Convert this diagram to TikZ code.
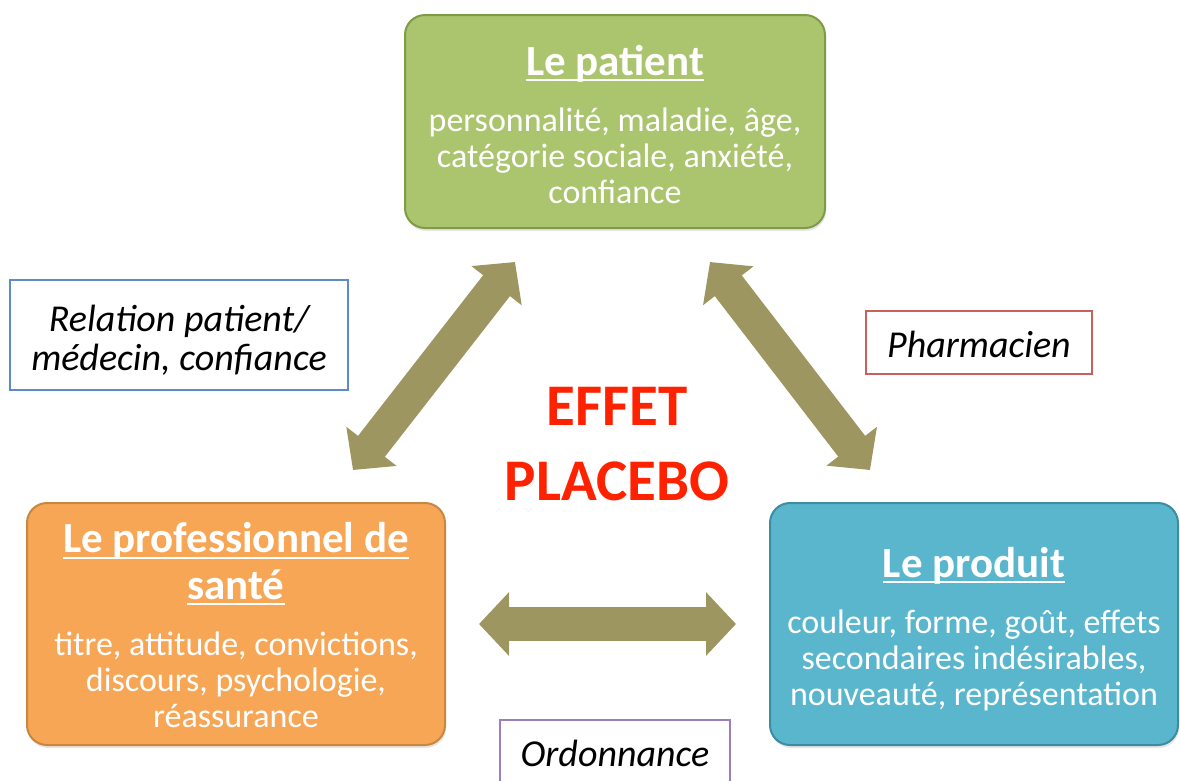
\documentclass[tikz,border=0pt]{standalone}
\usepackage{fontspec}
\setmainfont{Carlito}
\usetikzlibrary{arrows.meta,shadows}

\definecolor{patientfill}{HTML}{ABC46E}
\definecolor{patientdraw}{HTML}{7E9B48}
\definecolor{prosfill}{HTML}{F7A656}
\definecolor{prosdraw}{HTML}{C8873F}
\definecolor{prodfill}{HTML}{5AB6CD}
\definecolor{proddraw}{HTML}{3C8CA2}
\definecolor{arrowcol}{HTML}{9E9660}
\definecolor{relblue}{HTML}{5B8CC8}
\definecolor{relred}{HTML}{C8605C}
\definecolor{relpurple}{HTML}{9A7EBE}
\definecolor{effetred}{HTML}{FF2200}

\tikzset{
    factor/.style={rounded corners=20pt, line width=2pt, text=white, align=center,
        inner sep=0pt, font=\fontsize{34}{36}\selectfont,
        drop shadow={opacity=0.2, shadow xshift=1pt, shadow yshift=-3pt}},
    relation/.style={draw, line width=2pt, fill=white, align=center,
        inner sep=0pt, font=\fontsize{38}{39}\selectfont\itshape},
    bigarrow/.style={arrowcol, line width=34pt,
        {Triangle[length=30pt,width=62pt]}-{Triangle[length=30pt,width=62pt]}},
}
\newcommand{\boxtitle}[1]{{\fontsize{43}{45}\selectfont\bfseries
    \setbox0\hbox{#1}\rlap{\rule[-6pt]{\wd0}{1.8pt}}\box0}}

\begin{document}
\begin{tikzpicture}[x=1pt,y=-1pt]
    \useasboundingbox (0,0) rectangle (1180,780);

    % les trois acteurs
    \node[factor, fill=patientfill, draw=patientdraw, minimum width=420pt,
        text height=188pt, text depth=25pt] (patient) at (615,121.5)
        {\boxtitle{Le patient}\\[20pt]
         personnalité, maladie, âge,\\ catégorie sociale, anxiété,\\ confiance};
    \node[factor, fill=prosfill, draw=prosdraw, minimum width=418pt,
        text height=224pt, text depth=18pt] (pro) at (236,624)
        {\boxtitle{Le professionnel de}\\[9pt] \boxtitle{santé}\\[20pt]
         titre, attitude, convictions,\\ discours, psychologie,\\ réassurance};
    \node[factor, fill=prodfill, draw=proddraw, minimum width=408pt,
        text height=202pt, text depth=40pt] (produit) at (974,624)
        {\boxtitle{Le produit}\\[20pt]
         couleur, forme, goût, effets\\ secondaires indésirables,\\ nouveauté, représentation};

    % les relations
    \node[relation, draw=relblue, minimum width=338pt,
        text height=90pt, text depth=20pt] (medecin) at (179,335)
        {Relation patient/\\ médecin, confiance};
    \node[relation, draw=relred, minimum width=226pt,
        text height=46pt, text depth=17pt] (pharma) at (979,342.5) {Pharmacien};
    \node[relation, draw=relpurple, minimum width=230pt,
        text height=46pt, text depth=30pt, anchor=north] (ordo) at (615,719) {Ordonnance};

    \node[text=effetred, align=center, anchor=base,
        font=\fontsize{59}{75}\selectfont\bfseries] (effet) at (617,500) {EFFET\\ PLACEBO};

    % les fleches
    \coordinate (pa-l) at (515,262);
    \coordinate (pr-t) at (353,470);
    \coordinate (pa-r) at (710,262);
    \coordinate (pd-t) at (870,470);
    \draw[bigarrow] (pr-t) -- (pa-l);
    \draw[bigarrow] (pa-r) -- (pd-t);
    \draw[bigarrow, shorten <=33pt, shorten >=33pt] (pro.east) -- (produit.west);
\end{tikzpicture}
\end{document}
